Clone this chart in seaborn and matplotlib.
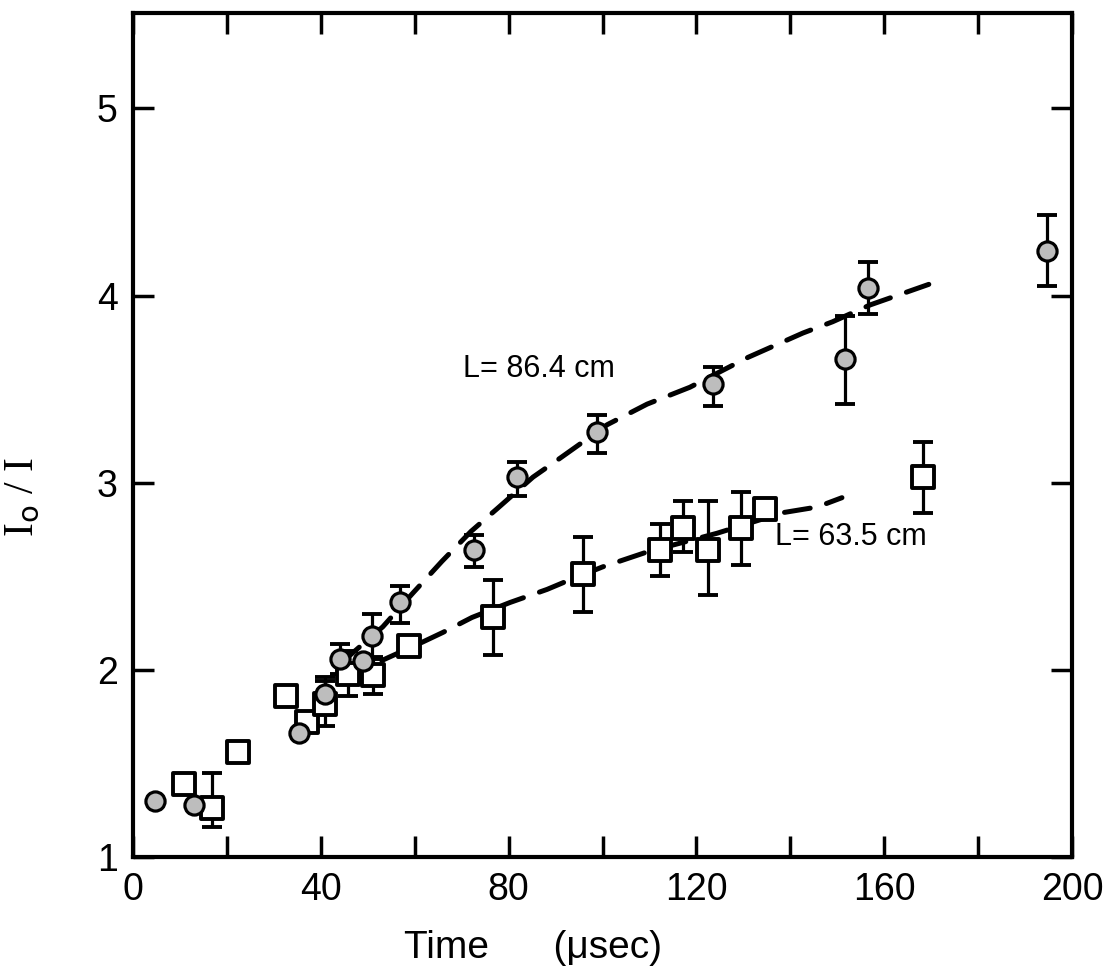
import numpy as np
import pandas as pd
import matplotlib
matplotlib.use("Agg")
import matplotlib.pyplot as plt
import seaborn as sns

# ---- data ----
# L = 86.4 cm (stippled circles)
circ_t = [4.7, 13.0, 35.3, 40.9, 44.0, 49.0, 50.9, 56.9, 72.6, 81.8, 98.8, 123.5, 151.6, 156.6, 194.7]
circ_v = [1.30, 1.28, 1.66, 1.87, 2.06, 2.05, 2.18, 2.36, 2.64, 3.03, 3.27, 3.53, 3.66, 4.04, 4.24]
circ_lo = [0, 0, 0, 0.09, 0.08, 0, 0.12, 0.11, 0.09, 0.10, 0.11, 0.12, 0.24, 0.14, 0.19]
circ_hi = [0, 0, 0, 0.09, 0.08, 0, 0.12, 0.09, 0.08, 0.08, 0.09, 0.09, 0.23, 0.14, 0.19]

# L = 63.5 cm (open squares)
sq_t = [10.8, 16.8, 22.4, 32.6, 37.0, 41.0, 45.8, 51.2, 58.8, 76.7, 95.8, 112.2, 117.2, 122.5, 129.5, 134.6, 168.2]
sq_v = [1.39, 1.26, 1.56, 1.86, 1.72, 1.82, 1.98, 1.97, 2.13, 2.28, 2.51, 2.64, 2.76, 2.64, 2.76, 2.86, 3.03]
sq_lo = [0, 0.10, 0, 0, 0, 0.12, 0.12, 0.10, 0, 0.20, 0.20, 0.14, 0.13, 0.24, 0.20, 0, 0.19]
sq_hi = [0, 0.19, 0, 0, 0, 0.12, 0.12, 0.10, 0, 0.20, 0.20, 0.14, 0.14, 0.26, 0.19, 0, 0.19]

# dashed guide curves
fit1_t = [44, 53.2, 59.6, 65.8, 72.0, 77.5, 85.2, 90.9, 101, 109.5, 118.6, 131, 142.7, 149, 157, 169.5]
fit1_v = [2.03, 2.23, 2.41, 2.58, 2.74, 2.86, 3.03, 3.13, 3.31, 3.42, 3.51, 3.67, 3.80, 3.86, 3.95, 4.06]
fit2_t = [53, 61.8, 66, 72.2, 80.3, 88.2, 92, 100, 109.5, 124.4, 138.4, 145.7, 151]
fit2_v = [2.05, 2.15, 2.20, 2.28, 2.36, 2.43, 2.47, 2.55, 2.63, 2.73, 2.84, 2.87, 2.92]

labels = ["L= 86.4 cm", "L= 63.5 cm"]
label_pos = [(70.3, 3.61), (136.7, 2.71)]

x_ticks = [0, 40, 80, 120, 160, 200]
x_minor = [20, 60, 100, 140, 180]
y_ticks = [1, 2, 3, 4, 5]

# ---- style ----
sns.set_theme(style="ticks")
plt.rcParams["font.family"] = ["Liberation Sans", "DejaVu Sans"]
plt.rcParams.update({
    "xtick.direction": "in", "ytick.direction": "in",
    "xtick.top": True, "ytick.right": True,
    "text.color": "black", "axes.labelcolor": "black",
    "xtick.color": "black", "ytick.color": "black",
    "xtick.labelcolor": "black", "ytick.labelcolor": "black",
})

fig = plt.figure(figsize=(11.13, 9.72), dpi=100)
ax = fig.add_axes([133 / 1113, 1 - 857 / 972, (1072 - 133) / 1113, (857 - 13) / 972])

df1 = pd.DataFrame({"t": fit1_t, "v": fit1_v})
df2 = pd.DataFrame({"t": fit2_t, "v": fit2_v})
for d in (df1, df2):
    sns.lineplot(data=d, x="t", y="v", ax=ax, color="black", lw=3.6, sort=False,
                 estimator=None, linestyle=(0, (5.2, 3.4)), dash_capstyle="round", zorder=1)

ax.errorbar(circ_t, circ_v, yerr=[circ_lo, circ_hi], fmt="none", ecolor="black",
            elinewidth=2.3, capsize=7, capthick=2.8, zorder=2)
ax.errorbar(sq_t, sq_v, yerr=[sq_lo, sq_hi], fmt="none", ecolor="black",
            elinewidth=2.3, capsize=7, capthick=2.8, zorder=2)

dsq = pd.DataFrame({"t": sq_t, "v": sq_v})
dci = pd.DataFrame({"t": circ_t, "v": circ_v})
sns.scatterplot(data=dsq, x="t", y="v", ax=ax, marker="s", s=256, facecolor="white",
                edgecolor="black", linewidth=2.8, zorder=3)
sns.scatterplot(data=dci, x="t", y="v", ax=ax, marker="o", s=190, facecolor="#bdbdbd",
                edgecolor="black", linewidth=2.3, zorder=4)

for txt, (tx, ty) in zip(labels, label_pos):
    ax.text(tx, ty, txt, fontsize=22, ha="left", va="center", color="black")

ax.set_xlim(0, 200)
ax.set_ylim(1, 5.51)
ax.set_xticks(x_ticks)
ax.set_xticks(x_minor, minor=True)
ax.set_yticks(y_ticks)
ax.set_xticklabels([str(v) for v in x_ticks])
ax.set_yticklabels([str(v) for v in y_ticks])
ax.tick_params(axis="both", which="major", length=15, width=2.5, labelsize=27, pad=11,
               color="black", labelcolor="black")
ax.tick_params(axis="x", which="minor", length=15, width=2.5, top=True, bottom=True,
               direction="in", color="black")

for sp in ax.spines.values():
    sp.set_linewidth(3)
    sp.set_color("black")

ax.set_xlabel("Time      (\u03bcsec)", fontsize=28, color="black")
ax.xaxis.set_label_coords(0.426, -0.086)
ax.set_ylabel("I$_{\\rm o}$ / I", fontsize=30, color="black",
              family=["Liberation Serif", "DejaVu Serif"])
ax.yaxis.set_label_coords(-0.097, 0.427)

fig.savefig("out.png", dpi=100, facecolor="white")
